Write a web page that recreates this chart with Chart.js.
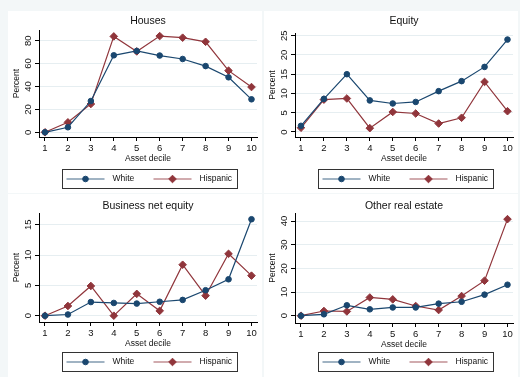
<!DOCTYPE html>
<html>
<head>
<meta charset="utf-8">
<script src="https://cdn.jsdelivr.net/npm/chart.js@4.4.1/dist/chart.umd.min.js"></script>
<style>
  html, body { margin: 0; padding: 0; background: #f3f7f8; }
  body { width: 520px; height: 377px; position: relative; overflow: hidden; }
  .panel { position: absolute; background: #fff; }
  .panel canvas { display: block; }
</style>
</head>
<body>
<div class="panel" style="left:8px;top:11px;width:254px;height:182px"><canvas id="houses" width="254" height="182"></canvas></div>
<div class="panel" style="left:264px;top:11px;width:254px;height:182px"><canvas id="equity" width="254" height="182"></canvas></div>
<div class="panel" style="left:8px;top:194px;width:254px;height:183px"><canvas id="business" width="254" height="183"></canvas></div>
<div class="panel" style="left:264px;top:194px;width:254px;height:183px"><canvas id="realestate" width="254" height="183"></canvas></div>

<script>
// data
const deciles = [1, 2, 3, 4, 5, 6, 7, 8, 9, 10];
const seriesNames = ['White', 'Hispanic'];

const housesWhite = [0, 4.4, 27.3, 67.2, 71, 67, 64, 57.8, 48, 28.8];
const housesHispanic = [0, 8.7, 24.7, 83.7, 70.6, 84, 82.6, 79, 53.8, 39.5];
const housesTicks = [0, 20, 40, 60, 80];

const equityWhite = [1.6, 8.6, 15, 8.2, 7.4, 7.8, 10.6, 13.2, 16.9, 24];
const equityHispanic = [1.1, 8.4, 8.7, 1.0, 5.2, 4.8, 2.2, 3.7, 13, 5.4];
const equityTicks = [0, 5, 10, 15, 20, 25];

const businessWhite = [0, 0.2, 2.25, 2.1, 2.0, 2.3, 2.6, 4.2, 6.0, 15.9];
const businessHispanic = [0, 1.6, 4.9, 0, 3.6, 0.8, 8.4, 3.3, 10.2, 6.6];
const businessTicks = [0, 5, 10, 15];

const realEstateWhite = [0, 0.6, 4.4, 2.7, 3.5, 3.5, 5.1, 5.9, 8.9, 13.1];
const realEstateHispanic = [0, 2.0, 1.8, 7.7, 6.9, 4.1, 2.4, 8.3, 14.8, 40.8];
const realEstateTicks = [0, 10, 20, 30, 40];

const NAVY = '#1a476f';
const MAROON = '#90353b';
const FONT = '"Liberation Sans", Arial, Helvetica, sans-serif';

const toPoints = vals => vals.map((v, i) => ({ x: deciles[i], y: v }));

// titles, rotated y labels, axis titles and the boxed legend
const stataText = {
  id: 'stataText',
  afterDraw(chart, args, opts) {
    const ctx = chart.ctx;
    const a = chart.chartArea;
    const xs = chart.scales.x;
    const ys = chart.scales.y;
    ctx.save();
    ctx.fillStyle = '#111';
    ctx.textAlign = 'center';
    ctx.textBaseline = 'middle';

    ctx.font = '10.5px ' + FONT;
    ctx.fillText(opts.title, (a.left + a.right) / 2, opts.titleY);

    ctx.font = '9.5px ' + FONT;
    deciles.forEach(d => ctx.fillText(String(d), xs.getPixelForValue(d), a.bottom + 11));
    ctx.font = '8.5px ' + FONT;
    ctx.fillText('Asset decile', (a.left + a.right) / 2, a.bottom + 22);

    ctx.font = '9.5px ' + FONT;
    opts.yTicks.forEach(t => {
      ctx.save();
      ctx.translate(a.left - 11, ys.getPixelForValue(t));
      ctx.rotate(-Math.PI / 2);
      ctx.fillText(String(t), 0, 0);
      ctx.restore();
    });
    ctx.save();
    ctx.font = '8.5px ' + FONT;
    ctx.translate(a.left - 22, (a.top + a.bottom) / 2);
    ctx.rotate(-Math.PI / 2);
    ctx.fillText('Percent', 0, 0);
    ctx.restore();

    // legend
    const bx = 54.5, by = opts.legendY, bw = 175, bh = 19;
    ctx.strokeStyle = '#333';
    ctx.lineWidth = 1;
    ctx.strokeRect(bx, by, bw, bh);
    const cy = by + bh / 2;
    const keys = [
      { x0: 4, x1: 42, mark: 23, text: 50, color: 'rgba(26,71,111,0.55)', solid: NAVY, style: 'circle', r: 2.8 },
      { x0: 91, x1: 129, mark: 110, text: 137, color: 'rgba(144,53,59,0.55)', solid: MAROON, style: 'rectRot', r: 3.8 }
    ];
    keys.forEach((k, i) => {
      ctx.strokeStyle = k.color;
      ctx.lineWidth = 1.6;
      ctx.beginPath();
      ctx.moveTo(bx + k.x0, cy);
      ctx.lineTo(bx + k.x1, cy);
      ctx.stroke();
      ctx.fillStyle = k.solid;
      ctx.strokeStyle = k.solid;
      ctx.lineWidth = 1;
      Chart.helpers.drawPoint(ctx, { pointStyle: k.style, radius: k.r, borderWidth: 1, rotation: 0 }, bx + k.mark, cy);
      ctx.fillStyle = '#111';
      ctx.textAlign = 'left';
      ctx.font = '8.5px ' + FONT;
      ctx.fillText(seriesNames[i], bx + k.text, cy);
    });
    ctx.restore();
  }
};

function makePanel(id, title, white, hispanic, yTicks, yMin, yMax, pad, titleY, legendY) {
  new Chart(document.getElementById(id), {
    type: 'line',
    data: {
      datasets: [
        {
          label: seriesNames[0],
          data: toPoints(white),
          borderColor: NAVY,
          backgroundColor: NAVY,
          borderWidth: 1.2,
          pointStyle: 'circle',
          pointRadius: 2.8,
          pointBorderWidth: 1,
          clip: false
        },
        {
          label: seriesNames[1],
          data: toPoints(hispanic),
          borderColor: MAROON,
          backgroundColor: MAROON,
          borderWidth: 1.2,
          pointStyle: 'rectRot',
          pointRadius: 3.8,
          pointBorderWidth: 1,
          clip: false
        }
      ]
    },
    options: {
      responsive: false,
      animation: false,
      layout: { padding: pad },
      plugins: {
        legend: { display: false },
        tooltip: { enabled: false },
        stataText: { title: title, yTicks: yTicks, titleY: titleY, legendY: legendY }
      },
      scales: {
        x: {
          type: 'linear',
          min: 0.74,
          max: 10.24,
          afterBuildTicks: s => { s.ticks = deciles.map(v => ({ value: v })); },
          afterFit: s => { s.height = 4; },
          ticks: { display: false },
          grid: { drawOnChartArea: false, drawTicks: true, tickLength: 4, tickColor: '#000' },
          border: { display: true, color: '#000', width: 1 }
        },
        y: {
          type: 'linear',
          min: yMin,
          max: yMax,
          afterBuildTicks: s => { s.ticks = yTicks.map(v => ({ value: v })); },
          afterFit: s => { s.width = 4; },
          ticks: { display: false },
          grid: { color: '#e6eef1', lineWidth: 1, drawTicks: true, tickLength: 4, tickColor: '#000' },
          border: { display: true, color: '#000', width: 1 }
        }
      }
    },
    plugins: [stataText]
  });
}

makePanel('houses', 'Houses', housesWhite, housesHispanic, housesTicks, -4.1, 89.3,
  { left: 27, right: 2, top: 19, bottom: 52 }, 10, 158.5);
makePanel('equity', 'Equity', equityWhite, equityHispanic, equityTicks, -1.3, 25.7,
  { left: 27, right: 2, top: 22, bottom: 52 }, 10, 158.5);
makePanel('business', 'Business net equity', businessWhite, businessHispanic, businessTicks, -1.04, 16.93,
  { left: 27, right: 2, top: 19, bottom: 51 }, 12, 158.5);
makePanel('realestate', 'Other real estate', realEstateWhite, realEstateHispanic, realEstateTicks, -3.08, 43.4,
  { left: 27, right: 2, top: 19, bottom: 50 }, 12, 158.5);
</script>
</body>
</html>
